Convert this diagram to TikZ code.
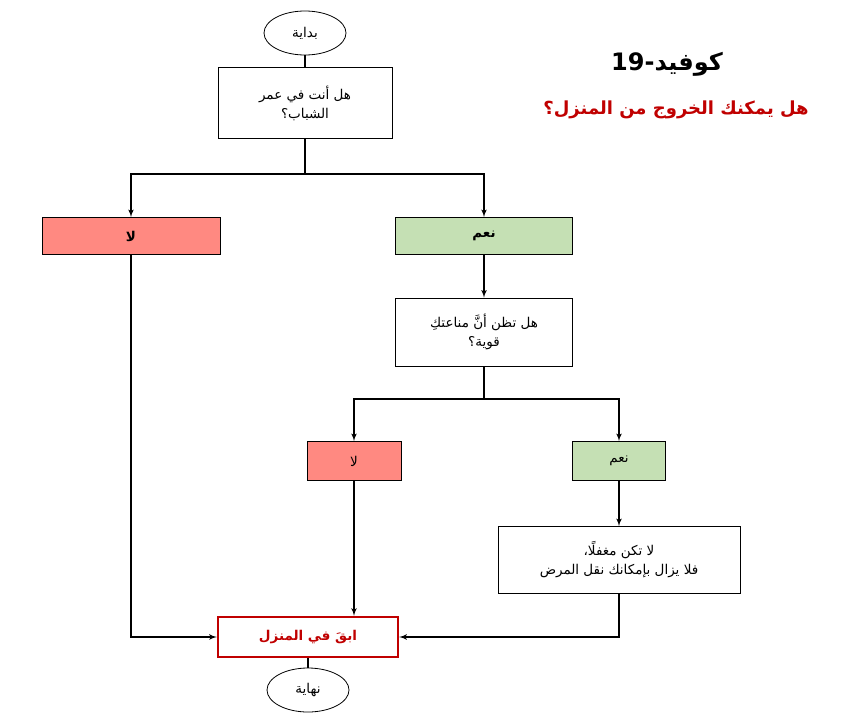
\documentclass[tikz,border=0pt]{standalone}
\usepackage{fontspec}
\newfontfamily\arabicfont[Script=Arabic]{DejaVu Sans}
\usetikzlibrary{shapes.geometric,arrows}
\TeXXeTstate=1
\newcommand{\ar}[1]{\beginR #1\endR}
\definecolor{nored}{HTML}{FF8981}
\definecolor{yesgreen}{HTML}{C5E0B4}
\definecolor{darkred}{HTML}{C00000}

\begin{document}
\begin{tikzpicture}[x=1pt,y=-1pt,font=\arabicfont\fontsize{13.5}{19}\selectfont,
    box/.style={draw,line width=0.8pt,align=center,inner sep=0pt},
    bold/.style={font=\arabicfont\bfseries\fontsize{13.5}{19}\selectfont},
    term/.style={draw,ellipse,line width=0.8pt,minimum width=82pt,minimum height=44pt,inner sep=0pt},
    arrow/.style={draw,line width=1.6pt,-latex'},
    line/.style={draw,line width=1.6pt}]
    \useasboundingbox (0,0) rectangle (861,720);

    % nodes
    \node[term] (start) at (305,33) {\ar{بداية}};
    \node[box,minimum width=174pt,minimum height=71pt] (young) at (305,103) {\ar{هل أنت في عمر}\\\ar{الشباب؟}};
    \node[box,bold,fill=nored,minimum width=178pt,minimum height=37pt] (no1) at (131,236) {\ar{لا}};
    \node[box,bold,fill=yesgreen,minimum width=177pt,minimum height=37pt] (yes1) at (484,236) {\ar{نعم}};
    \node[box,minimum width=177pt,minimum height=68pt] (immune) at (484,332) {\ar{هل تظن أنَّ مناعتكِ}\\\ar{قوية؟}};
    \node[box,fill=nored,minimum width=94pt,minimum height=39pt] (no2) at (354,461) {\ar{لا}};
    \node[box,fill=yesgreen,minimum width=93pt,minimum height=39pt] (yes2) at (619,461) {\ar{نعم}};
    \node[box,minimum width=242pt,minimum height=67pt] (fool) at (619,560) {\ar{لا تكن مغفلًا،}\\\ar{فلا يزال بإمكانك نقل المرض}};
    \node[box,bold,draw=darkred,line width=2.4pt,text=darkred,minimum width=180pt,minimum height=40pt] (stay) at (308,637) {\ar{ابقَ في المنزل}};
    \node[term] (finish) at (308,690) {\ar{نهاية}};

    % titles
    \node[font=\arabicfont\bfseries\fontsize{24}{28}\selectfont] (title) at (667,64) {\ar{كوفيد-19}};
    \node[font=\arabicfont\bfseries\fontsize{18}{22}\selectfont,text=darkred] (subtitle) at (676,110) {\ar{هل يمكنك الخروج من المنزل؟}};

    \coordinate (split1) at (305,174);
    \coordinate (split2) at (484,399);

    % connectors
    \draw[line] (start) -- (young);
    \draw[line] (young) -- (split1);
    \draw[arrow] (split1) -| (no1);
    \draw[arrow] (split1) -| (yes1);
    \draw[arrow] (yes1) -- (immune);
    \draw[line] (immune) -- (split2);
    \draw[arrow] (split2) -| (no2);
    \draw[arrow] (split2) -| (yes2);
    \draw[arrow] (yes2) -- (fool);
    \draw[arrow] (no1) |- (stay);
    \draw[arrow] (no2) -- (no2 |- stay.north);
    \draw[arrow] (fool) |- (stay);
    \draw[line] (stay) -- (finish);
\end{tikzpicture}
\end{document}
